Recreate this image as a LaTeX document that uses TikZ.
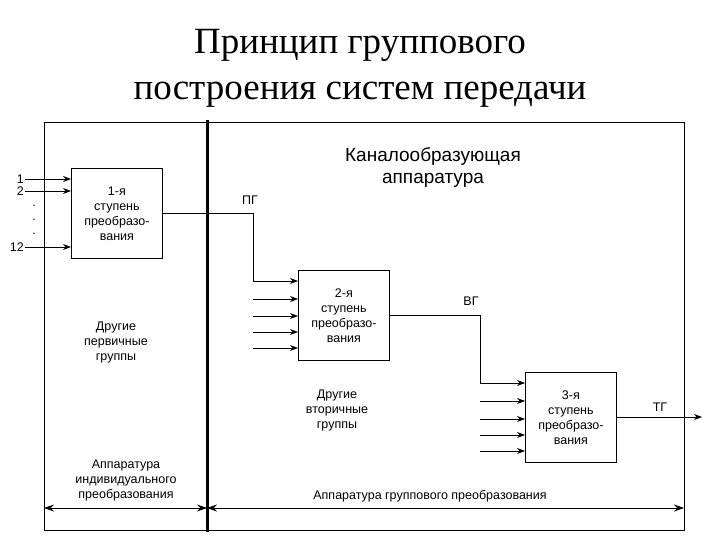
\documentclass[tikz,border=0pt]{standalone}
\usepackage{fontspec}
\setmainfont{Liberation Sans}
\newfontfamily\titlefont{Liberation Serif}
\usetikzlibrary{arrows.meta}
\begin{document}
\begin{tikzpicture}[x=1pt,y=-1pt,
  blk/.style={draw,thick,minimum width=91pt,minimum height=90pt,anchor=north west,align=center,font=\fontsize{12.5}{15}\selectfont},
  lbl/.style={align=center,font=\fontsize{12.5}{15}\selectfont},
  ttl/.style={font=\titlefont\fontsize{37}{40}\selectfont},
  arr/.style={thick,-{Stealth[length=8pt,width=6pt]}},
  dbl/.style={thick,{Stealth[length=10pt,width=7pt]}-{Stealth[length=10pt,width=7pt]}}]
\useasboundingbox (0,0) rectangle (720,540);
\node[ttl] (t1) at (360,45) {Принцип группового};
\node[ttl] (t2) at (360,95) {построения систем передачи};
\draw[thick] (44,122) rectangle (684,530);
\draw[line width=3pt] (207,120) -- (207,532);
\node[blk] (b1) at (71,168) {1-я\\ступень\\преобразо-\\вания};
\node[blk] (b2) at (298,270) {2-я\\ступень\\преобразо-\\вания};
\node[blk] (b3) at (525,372) {3-я\\ступень\\преобразо-\\вания};
% inputs to b1
\foreach \y/\t in {179/1,191/2,247/12}{
  \node[lbl,anchor=east,inner sep=1pt] (i\t) at (25,\y) {\t};
  \draw[arr] (i\t.east) -- (b1.west |- 0,\y);}
\foreach \y in {206,220,234}{\node[lbl] at (34,\y) {.};}
% b1 -> b2
\coordinate (c1) at (253,213);
\draw[arr] (b1.east |- c1) -- (c1) |- (b2.west |- 0,281);
\node[lbl] (pg) at (250,200) {ПГ};
\foreach \y in {299,316,332,348}{\coordinate (s\y) at (253,\y); \draw[arr] (s\y) -- (b2.west |- s\y);}
% b2 -> b3
\coordinate (c2) at (480,315);
\draw[arr] (b2.east |- c2) -- (c2) |- (b3.west |- 0,383);
\node[lbl] (vg) at (471,301) {ВГ};
\foreach \y in {401,419,435,451}{\coordinate (r\y) at (480,\y); \draw[arr] (r\y) -- (b3.west |- r\y);}
\coordinate (out) at (702,417);
\draw[arr] (b3.east |- out) -- (out);
\node[lbl] (tg) at (660,407) {ТГ};
\node[lbl] (d1) at (116,342) {Другие\\первичные\\группы};
\node[lbl] (d2) at (337,410) {Другие\\вторичные\\группы};
\node[lbl,font=\fontsize{19}{22}\selectfont] (k) at (433,168) {Каналообразующая\\аппаратура};
\node[lbl] (a1) at (126,480) {Аппаратура\\индивидуального\\преобразования};
\node[lbl] (a2) at (430,496) {Аппаратура группового преобразования};
\coordinate (l1) at (44,508); \coordinate (l2) at (207,508); \coordinate (l3) at (684,508);
\draw[dbl] (l1) -- (l2);
\draw[dbl] (l2) -- (l3);
\end{tikzpicture}
\end{document}
